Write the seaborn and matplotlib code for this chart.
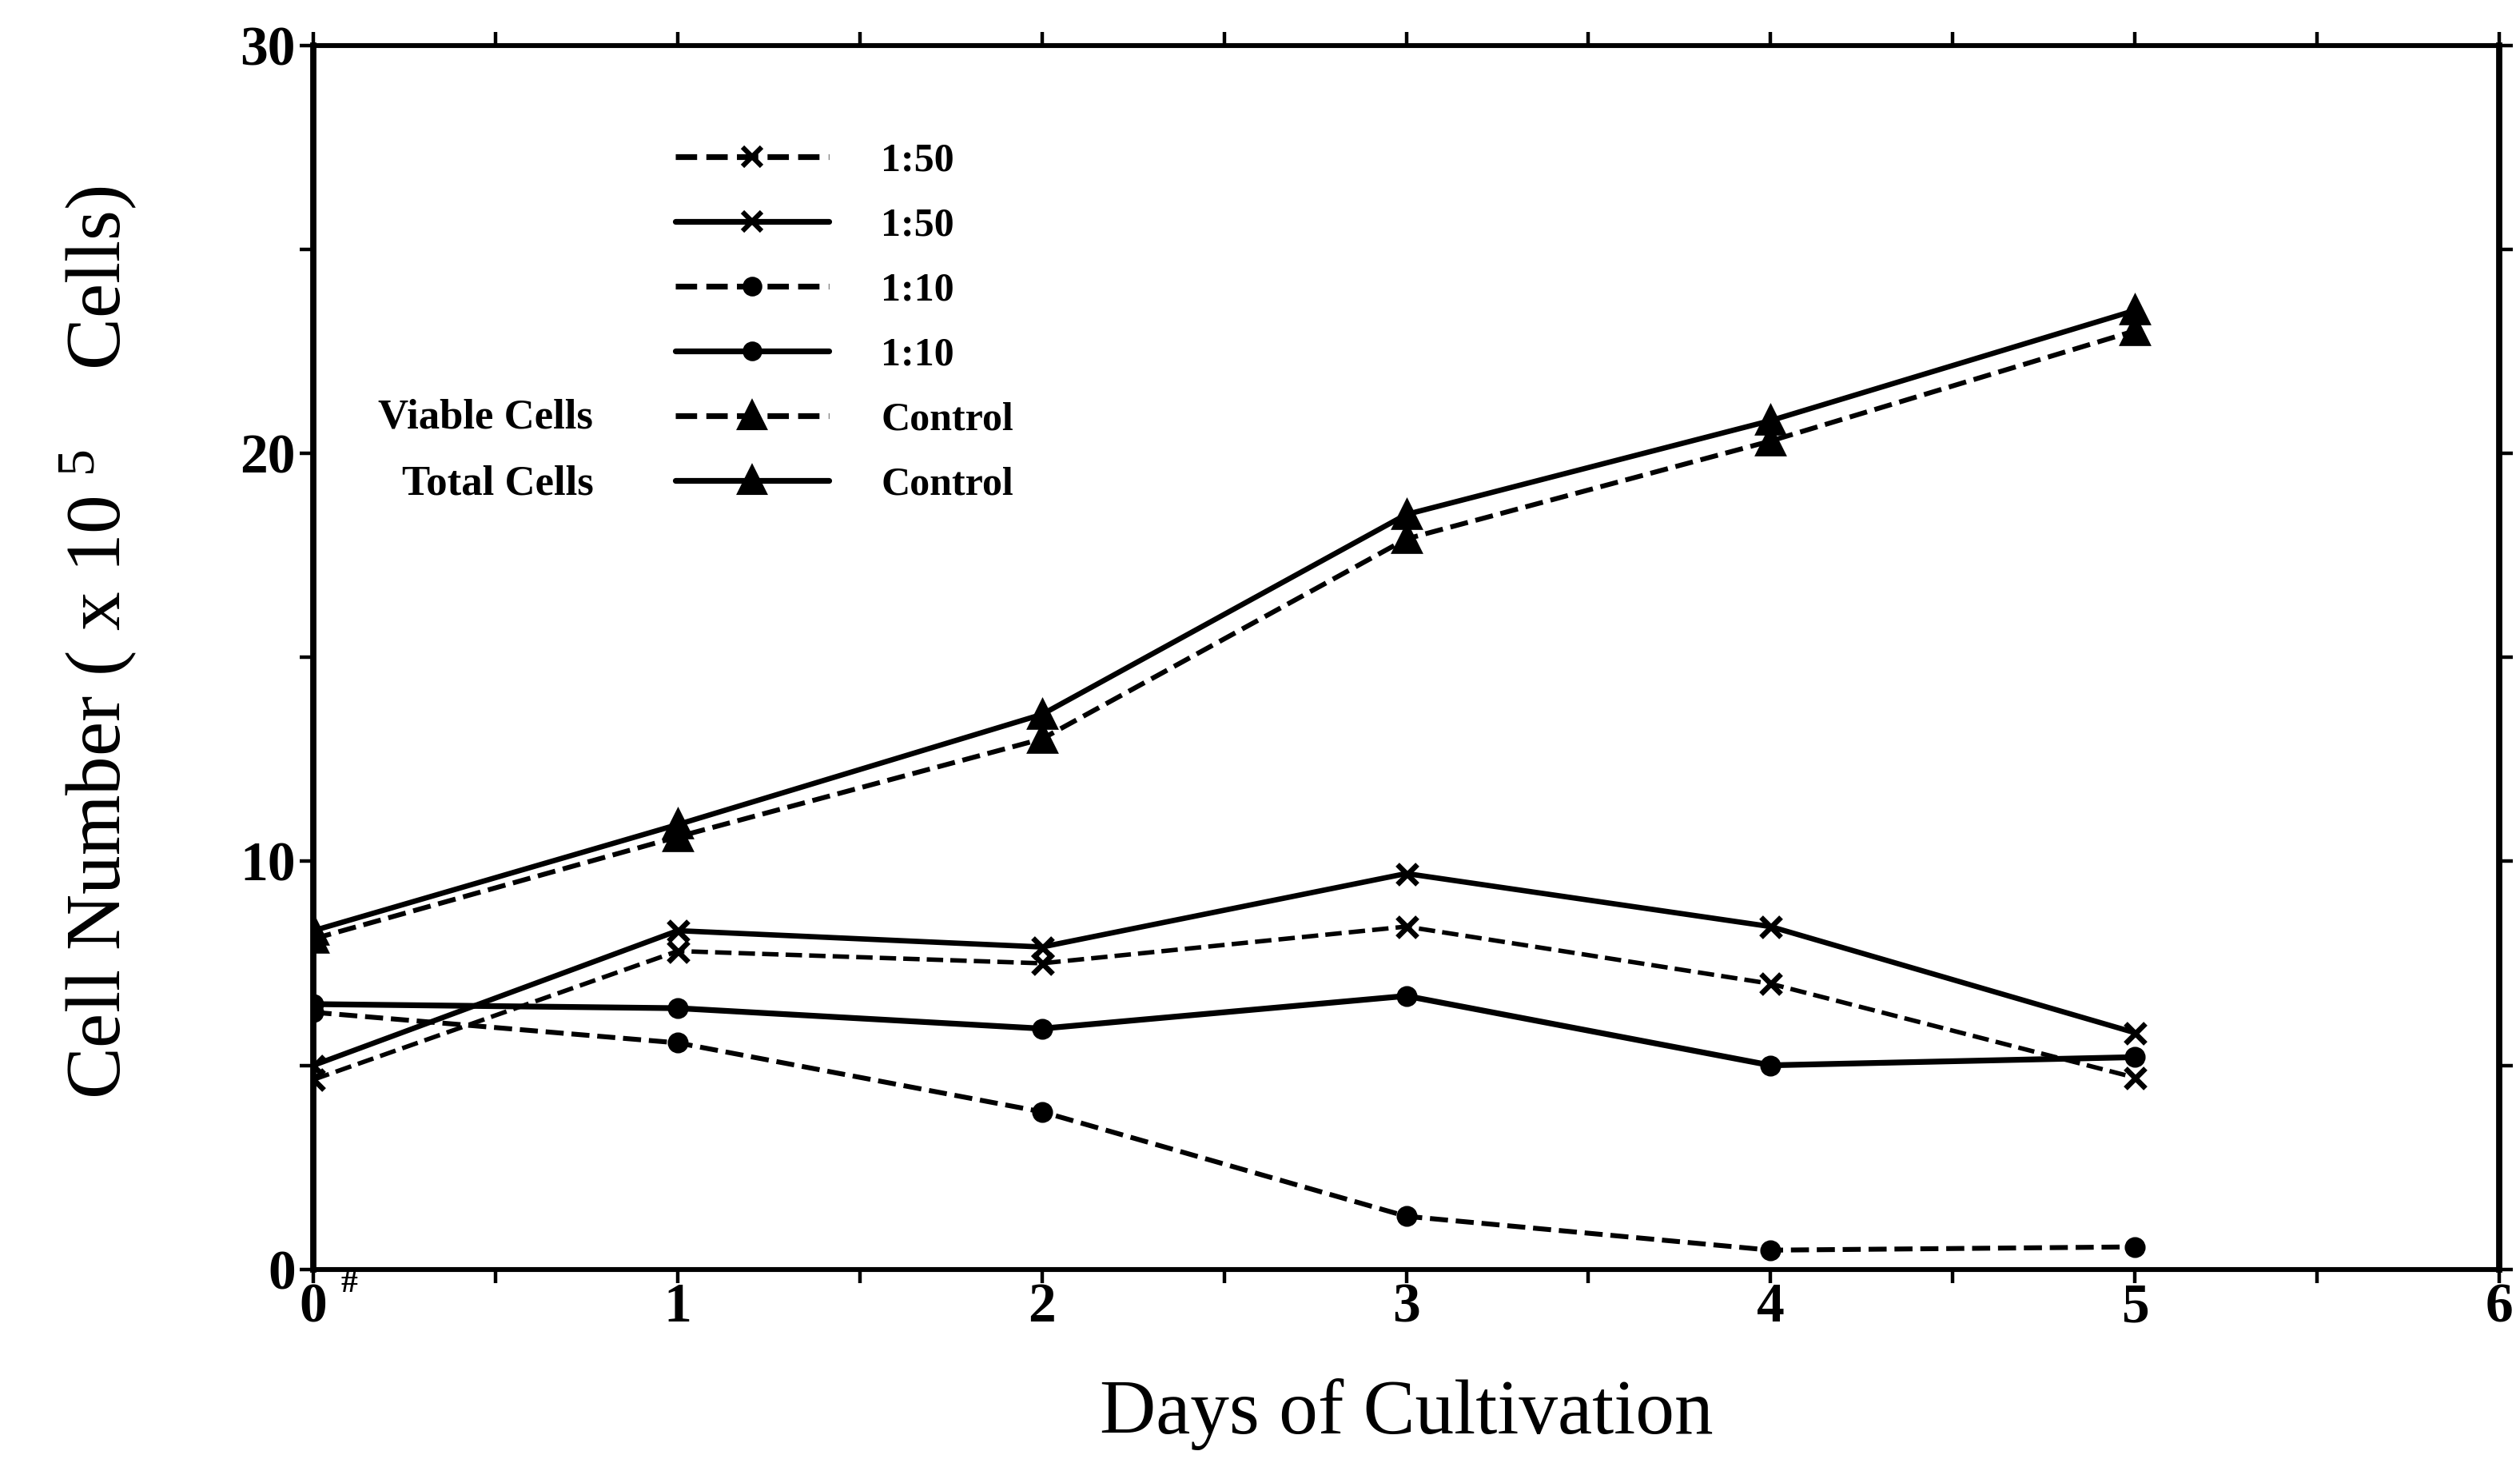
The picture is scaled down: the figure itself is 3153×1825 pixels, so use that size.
import matplotlib
matplotlib.use("Agg")
import matplotlib.pyplot as plt
import seaborn as sns
import numpy as np
import pandas as pd
from matplotlib.lines import Line2D
from matplotlib.ticker import MultipleLocator

days = [0, 1, 2, 3, 4, 5]
total_control = [8.3, 10.9, 13.6, 18.5, 20.8, 23.5]
viable_control = [8.1, 10.6, 13.0, 17.9, 20.3, 23.0]
total_1_50 = [5.0, 8.3, 7.9, 9.7, 8.4, 5.8]
viable_1_50 = [4.65, 7.8, 7.5, 8.4, 7.0, 4.7]
total_1_10 = [6.5, 6.4, 5.9, 6.7, 5.0, 5.2]
viable_1_10 = [6.3, 5.55, 3.86, 1.3, 0.47, 0.55]

legend_labels = ["1:50", "1:50", "1:10", "1:10", "Control", "Control"]
legend_side = ["Viable Cells", "Total Cells"]
x_label = "Days of Cultivation"
y_label = "Cell Number ( x 10$^{\\,\\,5}$    Cells)"

sns.set_theme(style="white")
plt.rcParams["font.family"] = ["Liberation Serif", "DejaVu Serif"]
plt.rcParams["mathtext.default"] = "regular"
plt.rcParams["text.color"] = "black"
plt.rcParams["axes.labelcolor"] = "black"
plt.rcParams["xtick.color"] = "black"
plt.rcParams["ytick.color"] = "black"

fig = plt.figure(figsize=(3153 / 200, 1825 / 200), dpi=200)
ax = fig.add_axes([0.1244, 0.130, 0.8673, 0.839])

series = [
    (viable_1_50, "--", "x", 9, 2.0),
    (total_1_50, "-", "x", 9, 2.4),
    (viable_1_10, "--", "o", 7, 2.2),
    (total_1_10, "-", "o", 7, 2.6),
    (viable_control, "--", "^", 11, 2.2),
    (total_control, "-", "^", 11, 2.4),
]
for vals, ls, mk, ms, lw in series:
    df = pd.DataFrame({"day": days, "val": vals})
    sns.lineplot(data=df, x="day", y="val", ax=ax, color="black", linestyle=ls,
                 marker=mk, markersize=ms, linewidth=lw, markeredgewidth=2.4,
                 markeredgecolor="black", markerfacecolor="black")

ax.set_xlim(0, 6)
ax.set_ylim(0, 30)
ax.xaxis.set_major_locator(MultipleLocator(1))
ax.xaxis.set_minor_locator(MultipleLocator(0.5))
ax.yaxis.set_major_locator(MultipleLocator(10))
ax.yaxis.set_minor_locator(MultipleLocator(5))
ax.tick_params(which="both", direction="out", top=True, right=True,
               bottom=True, left=True, color="black", width=1.6)
ax.tick_params(which="both", length=6)
ax.tick_params(axis="y", which="major", labelsize=25, pad=2)
ax.tick_params(axis="x", which="major", labelsize=25, pad=0)
for lab in ax.get_xticklabels() + ax.get_yticklabels():
    lab.set_fontweight("bold")

for side, s in ax.spines.items():
    s.set_visible(True)
    s.set_color("black")
    s.set_linewidth(2.8 if side in ("left", "right") else 2.2)

ax.set_xlabel(x_label, fontsize=35, labelpad=20)
ax.set_ylabel(y_label, fontsize=35)
ax.yaxis.set_label_coords(-0.08, 0.512)

ax.text(0.0125, -0.012, "#", transform=ax.transAxes, fontsize=15,
        fontweight="bold", ha="left", va="center")

handles = []
for vals, ls, mk, ms, lw in series:
    handles.append(Line2D([], [], color="black", linestyle=ls, marker=mk,
                          markersize=ms * 0.95, linewidth=2.6,
                          markeredgewidth=2.2, markerfacecolor="black"))
leg = ax.legend(handles, legend_labels, loc="upper left",
                bbox_to_anchor=(0.149, 0.95), frameon=False,
                handlelength=3.85, handletextpad=1.3, labelspacing=0.70,
                prop={"family": "Liberation Serif", "weight": "bold", "size": 18})

ax.text(0.128, 0.6955, legend_side[0], transform=ax.transAxes, fontsize=19,
        fontweight="bold", ha="right", va="center")
ax.text(0.128, 0.6417, legend_side[1], transform=ax.transAxes, fontsize=19,
        fontweight="bold", ha="right", va="center")

fig.savefig("out.png", dpi=200, facecolor="white")
